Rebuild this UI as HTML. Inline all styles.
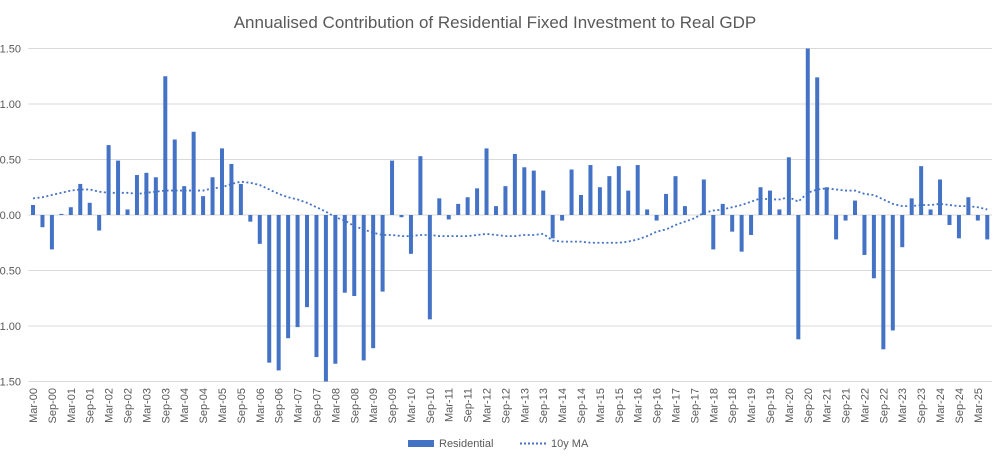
<!DOCTYPE html>
<html><head><meta charset="utf-8"><style>
body{margin:0;background:#fff;}
svg{display:block;font-family:"Liberation Sans",sans-serif;}
</style></head><body>
<svg id="chart" width="998" height="458">
<text x="495" y="28" text-anchor="middle" font-size="17" fill="#595959">Annualised Contribution of Residential Fixed Investment to Real GDP</text>
<g id="grid"></g><g id="bars"></g><g id="ma"></g><g id="xl"></g><g id="yl"></g>
<g>
<rect x="408" y="440" width="26" height="7" fill="#4472C4"/>
<text x="439" y="447" font-size="11" fill="#595959">Residential</text>
<line x1="520" y1="443.5" x2="546" y2="443.5" stroke="#4472C4" stroke-width="2" stroke-dasharray="2,2"/>
<text x="551" y="447" font-size="11" fill="#595959">10y MA</text>
</g>
</svg>
<script>
const residential=[0.09,-0.11,-0.31,0.01,0.07,0.28,0.11,-0.14,0.63,0.49,0.05,0.36,0.38,0.34,1.25,0.68,0.26,0.75,0.17,0.34,0.60,0.46,0.28,-0.06,-0.26,-1.33,-1.40,-1.11,-1.01,-0.83,-1.28,-1.52,
-1.34,-0.70,-0.73,-1.31,-1.20,-0.69,0.49,-0.02,-0.35,0.53,-0.94,0.15,-0.04,0.10,0.16,0.24,0.60,0.08,0.26,0.55,0.43,0.40,0.22,-0.21,-0.05,0.41,0.18,0.45,0.25,0.35,0.44,0.22,0.45,0.05,-0.05,0.19,
0.35,0.08,0,0.32,-0.31,0.10,-0.15,-0.33,-0.18,0.25,0.22,0.05,0.52,-1.12,1.55,1.24,0.25,-0.22,-0.05,0.13,-0.36,-0.57,-1.21,-1.04,-0.29,0.15,0.44,0.05,0.32,-0.09,-0.21,0.16,-0.05,-0.22];
const movingAvg=[0.15,0.16,0.18,0.20,0.22,0.23,0.23,0.21,0.20,0.20,0.20,0.19,0.20,0.21,0.22,0.22,0.22,0.22,0.22,0.24,0.25,0.28,0.30,0.29,0.27,0.23,0.19,0.16,0.14,0.11,0.07,0.03,
-0.02,-0.05,-0.10,-0.13,-0.16,-0.18,-0.18,-0.19,-0.19,-0.18,-0.18,-0.19,-0.19,-0.19,-0.19,-0.18,-0.17,-0.18,-0.19,-0.19,-0.18,-0.18,-0.17,-0.23,-0.24,-0.24,-0.24,-0.25,-0.25,-0.25,-0.25,-0.24,-0.22,-0.19,-0.15,-0.13,
-0.09,-0.06,-0.03,0.02,0.04,0.05,0.07,0.09,0.12,0.15,0.14,0.14,0.16,0.12,0.20,0.23,0.24,0.23,0.22,0.22,0.19,0.18,0.14,0.10,0.08,0.08,0.09,0.09,0.10,0.09,0.08,0.08,0.07,0.05];
const yTicks=[1.5,1.0,0.5,0,-0.5,-1.0,-1.5];
const mons=['Mar','Jun','Sep','Dec'];
const categories=residential.map((v,i)=>mons[i%4]+'-'+String(Math.floor(i/4)).padStart(2,'0'));
const NS='http://www.w3.org/2000/svg';
const X0=28.3,X1=992,Y0=215,PX=111;
const bw=(X1-X0)/categories.length;
const xs=i=>X0+bw*(i+0.5);
const ys=v=>Y0-Math.max(-1.5,Math.min(1.5,v))*PX;
function mk(t,a,p){const e=document.createElementNS(NS,t);for(const k in a)e.setAttribute(k,a[k]);p.appendChild(e);return e;}
const grid=document.getElementById('grid'),yl=document.getElementById('yl');
yTicks.forEach(t=>{
 const l=mk('line',{x1:X0,x2:X1,y1:ys(t),y2:ys(t),stroke:'#d9d9d9','stroke-width':1},grid);
 
 
 const tx=mk('text',{x:21,y:ys(t)+4,'text-anchor':'end','font-size':11,fill:'#595959'},yl);
 tx.textContent=t.toFixed(2);
 
 
});
const bars=document.getElementById('bars');
residential.forEach((v,i)=>{
 const y=ys(v);
 const r=mk('rect',{x:xs(i)-2,y:Math.min(y,Y0),width:4,height:Math.abs(y-Y0),fill:'#4472C4'},bars);
 
 
});
const p=mk('polyline',{points:movingAvg.map((v,i)=>xs(i)+','+ys(v)).join(' '),fill:'none',stroke:'#4472C4','stroke-width':1.8,'stroke-dasharray':'2,2.5'},document.getElementById('ma'));


const xl=document.getElementById('xl');
categories.forEach((c,i)=>{
 if(i%2)return;
 const x=xs(i)+4,y=388;
 const t=mk('text',{x:x,y:y,'text-anchor':'end','font-size':11,fill:'#595959',transform:`rotate(-90 ${x} ${y})`},xl);
 t.textContent=c;
 
 
});
</script>
</body></html>
